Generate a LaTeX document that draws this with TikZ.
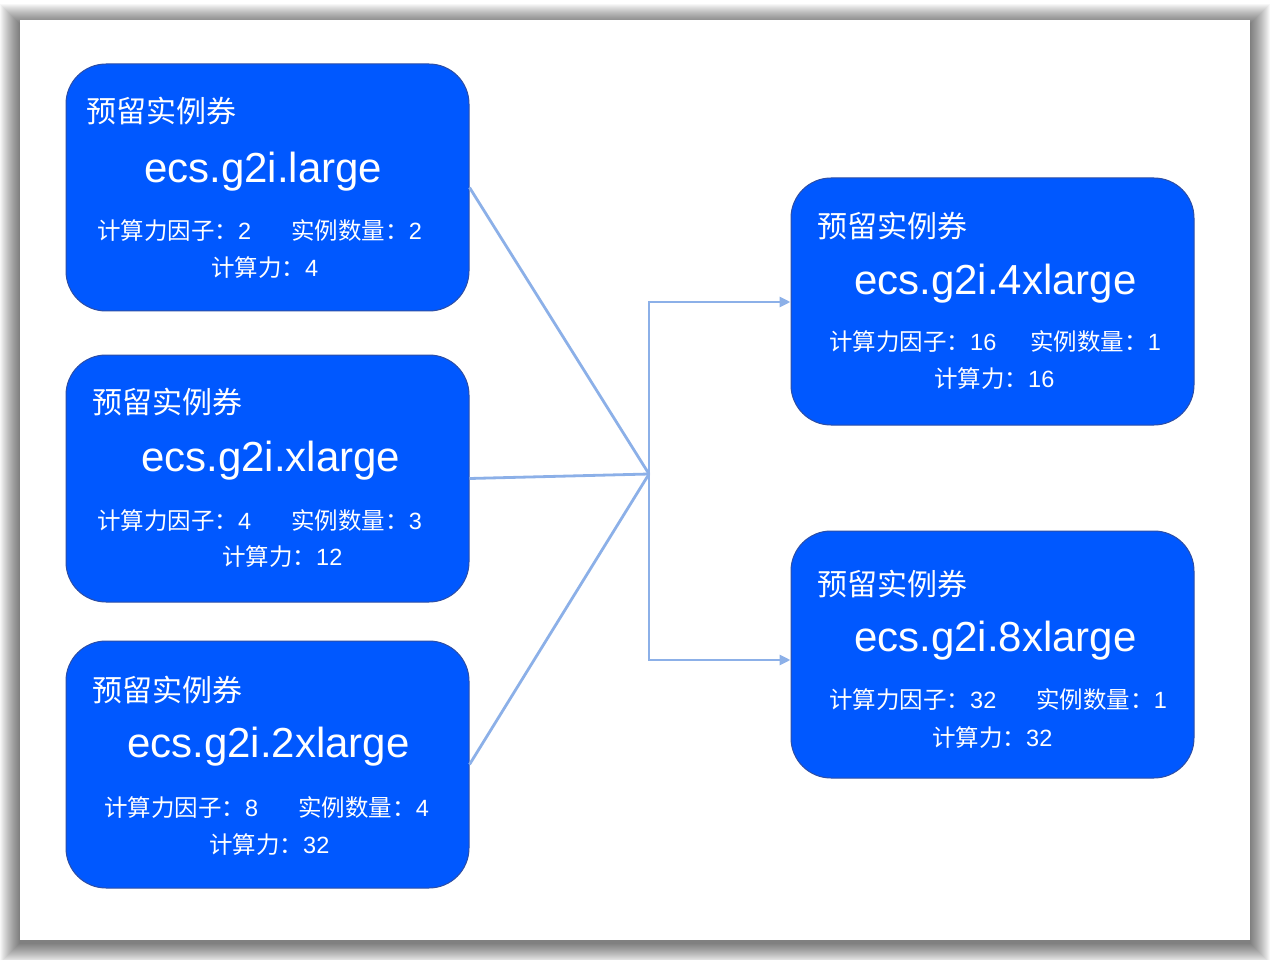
\documentclass[tikz,border=0pt]{standalone}
\usepackage{fontspec}
\setmainfont{Liberation Sans}
\newfontfamily\cjk{Noto Sans CJK SC}
\usetikzlibrary{arrows.meta}
\definecolor{boxblue}{RGB}{0,88,255}
\definecolor{boxedge}{RGB}{45,78,165}
\definecolor{linkblue}{RGB}{140,176,232}
\begin{document}
\begin{tikzpicture}[x=1pt,y=-1pt,
  card/.style={draw=boxedge, line width=1pt, fill=boxblue, rounded corners=40pt,
    minimum width=403pt, minimum height=247pt, inner sep=0pt},
  tag/.style={anchor=west, inner sep=0pt, text=white, font=\cjk\fontsize{30}{36}\selectfont},
  cardtitle/.style={anchor=west, inner sep=0pt, text=white, font=\fontsize{42}{50}\selectfont},
  infoline/.style={anchor=west, inner sep=0pt, text=white, font=\fontsize{23.5}{28}\selectfont},
  link/.style={draw=linkblue, line width=2.8pt, line join=miter},
  arr/.style={link, -{Triangle[length=11pt,width=10pt]}}
]
\useasboundingbox (0,0) rectangle (1270,960);
\fill[white] (0,0) rectangle (1270,960);
% frame shadow
\foreach \i in {1,...,20} {
  \fill[black, opacity=0.03] (20-\i,20-\i+4) rectangle (1250+\i,940+\i+3);
}
\fill[white] (20,20) rectangle (1250,940);

% cards
\node[card] (b1) at (267.5,187.5) {};
\node[card] (b2) at (267.5,478.5) {};
\node[card] (b3) at (267.5,764.5) {};
\node[card] (b4) at (992.5,301.5) {};
\node[card] (b5) at (992.5,654.5) {};

% card 1
\node[tag] (b1t) at (86,111) {预留实例券};
\node[cardtitle] (b1n) at (144,171.5) {ecs.g2i.large};
\node[infoline] (b1a) at (97,231) {{\cjk 计算力因子：}2\hspace{40pt}{\cjk 实例数量：}2};
\node[infoline] (b1b) at (211,267.5) {{\cjk 计算力：}4};

% card 2
\node[tag] (b2t) at (92,402) {预留实例券};
\node[cardtitle] (b2n) at (141,461) {ecs.g2i.xlarge};
\node[infoline] (b2a) at (97,521) {{\cjk 计算力因子：}4\hspace{40pt}{\cjk 实例数量：}3};
\node[infoline] (b2b) at (222,557) {{\cjk 计算力：}12};

% card 3
\node[tag] (b3t) at (92,690) {预留实例券};
\node[cardtitle] (b3n) at (127,747) {ecs.g2i.2xlarge};
\node[infoline] (b3a) at (104,808) {{\cjk 计算力因子：}8\hspace{40pt}{\cjk 实例数量：}4};
\node[infoline] (b3b) at (209,845) {{\cjk 计算力：}32};

% card 4
\node[tag] (b4t) at (817,226) {预留实例券};
\node[cardtitle] (b4n) at (854,284) {ecs.g2i.4xlarge};
\node[infoline] (b4a) at (829,342) {{\cjk 计算力因子：}16\hspace{34pt}{\cjk 实例数量：}1};
\node[infoline] (b4b) at (934,379) {{\cjk 计算力：}16};

% card 5
\node[tag] (b5t) at (817,584) {预留实例券};
\node[cardtitle] (b5n) at (854,641) {ecs.g2i.8xlarge};
\node[infoline] (b5a) at (829,700) {{\cjk 计算力因子：}32\hspace{40pt}{\cjk 实例数量：}1};
\node[infoline] (b5b) at (932,738) {{\cjk 计算力：}32};

% connectors
\coordinate (j) at (649,474);
\coordinate (jt) at (649,302);
\coordinate (jb) at (649,660);
\draw[link] (b1.east) -- (j);
\draw[link] (b2.east) -- (j);
\draw[link] (b3.east) -- (j);
\draw[arr] (j) -- (jt) -- (jt -| b4.west);
\draw[arr] (j) -- (jb) -- (jb -| b5.west);
\end{tikzpicture}
\end{document}
